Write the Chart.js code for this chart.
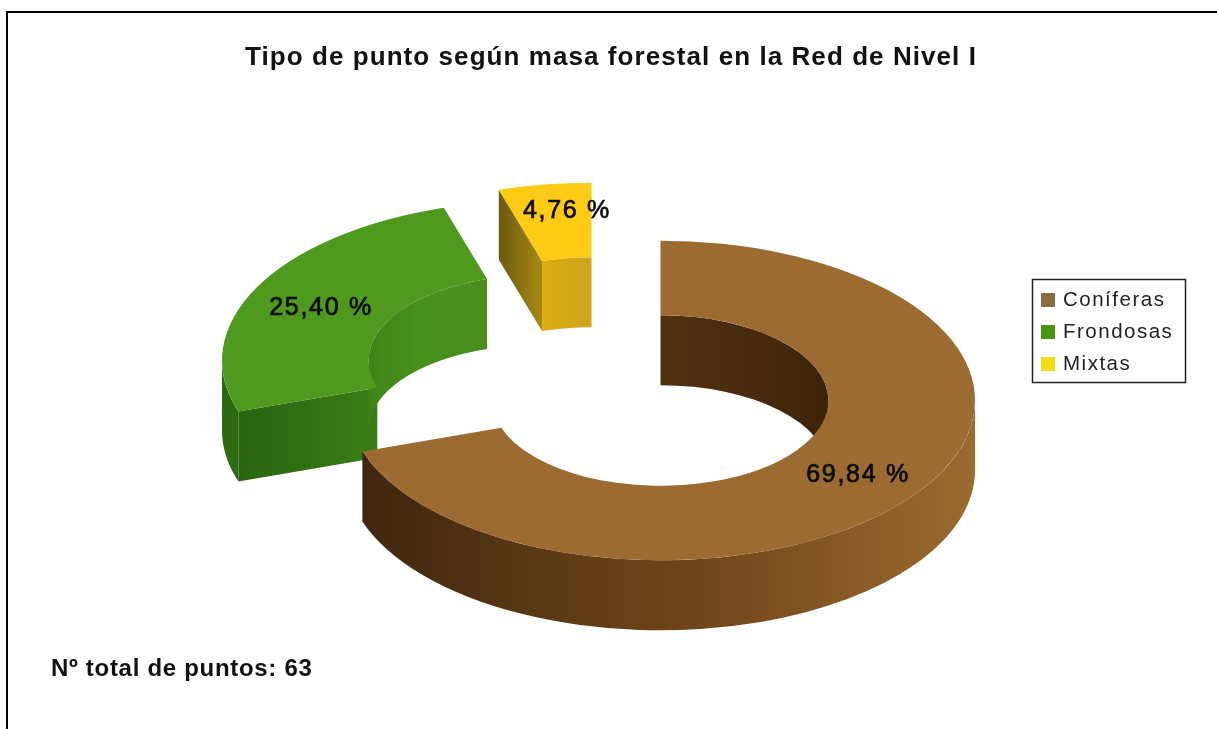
<!DOCTYPE html>
<html lang="es">
<head>
<meta charset="utf-8">
<title>Tipo de punto según masa forestal</title>
<script src="https://cdn.jsdelivr.net/npm/chart.js@4"></script>
<style>
  html, body { margin: 0; padding: 0; background: #fff; }
  canvas { display: block; }
</style>
</head>
<body>
<canvas id="chart" width="1217" height="729"></canvas>
<script>
// Series
const categories = ['Coníferas', 'Frondosas', 'Mixtas'];
const percentages = [69.84, 25.40, 4.76];

// Texts
const chartTitle = 'Tipo de punto según masa forestal en la Red de Nivel I';
const footnote = 'Nº total de puntos: 63';

// Colours of each ring piece
const topColors = ['#9c6b31', '#4f9a1e', '#fdcb16'];
const legendColors = ['#8a6a3e', '#4a960f', '#f2dc14'];
const outerWallStops = [
  [[0, '#40260f'], [0.3, '#5b3915'], [0.6, '#74491c'], [0.85, '#8d5e27'], [1, '#9a6a2f']],
  [[0, '#2e6a12'], [1, '#2e6a12']],
  [[0, '#a98a12'], [1, '#a98a12']]
];
const innerWallStops = [
  [[0, '#4f3010'], [0.7, '#46290d'], [1, '#3b2208']],
  [[0, '#3f8318'], [0.4, '#47911c'], [1, '#4a8d1f']],
  [[0, '#dcae12'], [1, '#cfa31a']]
];
const capStops = [
  [[0, '#40260f'], [1, '#40260f']],
  [[0, '#2a6410'], [1, '#3a7e16']],
  [[0, '#6c5912'], [1, '#a88a12']]
];

// Projection of the ring
const CENTER_X = 660.5;
const CENTER_Y = 400.5;
const TILT = 0.508;
const DEPTH = 70;
const explode = [[0, 0], [-124, -40], [-69, -58]];
const valueAnchors = [[858, 475], [321, 308], [567, 211]];
const FONT = '"Liberation Sans", Arial, sans-serif';

const formatPercent = v => v.toFixed(2).replace('.', ',') + ' %';

function linearFill(ctx, x0, x1, stops) {
  const g = ctx.createLinearGradient(x0, 0, Math.max(x1, x0 + 1), 0);
  stops.forEach(([p, c]) => g.addColorStop(p, c));
  return g;
}

// Fills the vertical wall standing below one elliptical edge between two angles
function drawWall(ctx, cx, cy, r, a0, a1, stops) {
  if (a1 <= a0) return;
  let x0 = Infinity, x1 = -Infinity;
  for (let i = 0; i <= 60; i++) {
    const x = cx + r * Math.cos(a0 + (a1 - a0) * i / 60);
    x0 = Math.min(x0, x); x1 = Math.max(x1, x);
  }
  ctx.beginPath();
  ctx.ellipse(cx, cy, r, r * TILT, 0, a0, a1);
  ctx.ellipse(cx, cy + DEPTH, r, r * TILT, 0, a1, a0, true);
  ctx.closePath();
  ctx.fillStyle = linearFill(ctx, x0, x1, stops);
  ctx.fill();
}

// Fills the flat radial face at the cut end of a piece
function drawCap(ctx, cx, cy, ri, ro, a, stops) {
  const xi = cx + ri * Math.cos(a), yi = cy + ri * TILT * Math.sin(a);
  const xo = cx + ro * Math.cos(a), yo = cy + ro * TILT * Math.sin(a);
  ctx.beginPath();
  ctx.moveTo(xi, yi);
  ctx.lineTo(xo, yo);
  ctx.lineTo(xo, yo + DEPTH);
  ctx.lineTo(xi, yi + DEPTH);
  ctx.closePath();
  ctx.fillStyle = linearFill(ctx, Math.min(xi, xo), Math.max(xi, xo), stops);
  ctx.fill();
}

// Draws the doughnut arcs as an exploded, extruded ring
const extrudedRing = {
  id: 'extrudedRing',
  beforeDatasetsDraw(chart) {
    const ctx = chart.ctx;
    const arcs = chart.getDatasetMeta(0).data;
    for (let i = arcs.length - 1; i >= 0; i--) {
      const arc = arcs[i];
      const p = arc.getProps(['x', 'y', 'startAngle', 'endAngle', 'innerRadius', 'outerRadius'], true);
      const cx = CENTER_X + explode[i][0];
      const cy = CENTER_Y + explode[i][1];
      const s = p.startAngle, e = p.endAngle;

      if (Math.sin(s - Math.PI / 2) > 1e-6) drawCap(ctx, cx, cy, p.innerRadius, p.outerRadius, s, capStops[i]);
      if (Math.sin(e + Math.PI / 2) > 1e-6) drawCap(ctx, cx, cy, p.innerRadius, p.outerRadius, e, capStops[i]);

      // Only the parts of each wall that face the viewer are painted
      drawWall(ctx, cx, cy, p.outerRadius, Math.max(s, 0), Math.min(e, Math.PI), outerWallStops[i]);
      drawWall(ctx, cx, cy, p.innerRadius, Math.max(s, -Math.PI), Math.min(e, 0), innerWallStops[i]);
      drawWall(ctx, cx, cy, p.innerRadius, Math.max(s, Math.PI), Math.min(e, 2 * Math.PI), innerWallStops[i]);

      ctx.save();
      ctx.translate(cx, cy);
      ctx.scale(1, TILT);
      ctx.translate(-p.x, -p.y);
      arc.draw(ctx);
      ctx.restore();
    }
    return false;
  },
  afterDraw(chart) {
    const ctx = chart.ctx;
    ctx.save();

    // Frame
    ctx.fillStyle = '#000';
    ctx.fillRect(6, 11, 1211, 2);
    ctx.fillRect(6, 11, 2, 718);

    // Title and footnote
    ctx.textBaseline = 'alphabetic';
    ctx.textAlign = 'left';
    ctx.fillStyle = '#111';
    ctx.font = 'bold 26px ' + FONT;
    ctx.letterSpacing = '1.07px';
    ctx.fillText(chartTitle, 245, 65);
    ctx.font = 'bold 24px ' + FONT;
    ctx.letterSpacing = '0.7px';
    ctx.fillText(footnote, 51, 676);

    // Value labels
    ctx.textAlign = 'center';
    ctx.textBaseline = 'middle';
    ctx.font = '25px ' + FONT;
    ctx.letterSpacing = '1.7px';
    ctx.fillStyle = '#0b0b0b';
    ctx.strokeStyle = '#0b0b0b';
    ctx.lineWidth = 0.7;
    percentages.forEach((v, i) => {
      ctx.fillText(formatPercent(v), valueAnchors[i][0], valueAnchors[i][1]);
      ctx.strokeText(formatPercent(v), valueAnchors[i][0], valueAnchors[i][1]);
    });

    // Legend
    ctx.fillStyle = '#fff';
    ctx.fillRect(1032, 279, 154, 104);
    ctx.strokeStyle = '#222';
    ctx.lineWidth = 1.5;
    ctx.strokeRect(1032.5, 279.5, 153, 103);
    ctx.textAlign = 'left';
    ctx.textBaseline = 'middle';
    ctx.font = '20.5px ' + FONT;
    ctx.letterSpacing = '1.5px';
    chart.data.labels.forEach((label, i) => {
      const y = 300 + i * 32;
      ctx.fillStyle = legendColors[i];
      ctx.fillRect(1041, y - 7, 14, 14);
      ctx.fillStyle = '#222';
      ctx.fillText(label, 1063, y);
    });
    ctx.restore();
  }
};

new Chart(document.getElementById('chart'), {
  type: 'doughnut',
  data: {
    labels: categories,
    datasets: [{
      data: percentages,
      backgroundColor: topColors,
      borderWidth: 0,
      radius: 314.5,
      cutout: '53.4%'
    }]
  },
  options: {
    responsive: false,
    animation: false,
    events: [],
    plugins: { legend: { display: false }, title: { display: false }, tooltip: { enabled: false } }
  },
  plugins: [extrudedRing]
});
</script>
</body>
</html>
